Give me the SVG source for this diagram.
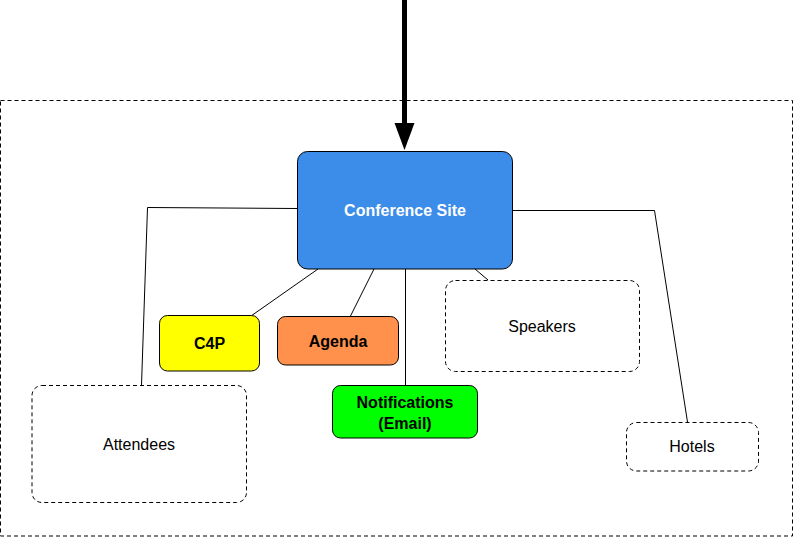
<svg xmlns="http://www.w3.org/2000/svg" width="794" height="538" viewBox="0 0 794 538">
<style>
.t{font-family:"Liberation Sans",Arial,Helvetica,sans-serif;font-size:16px;text-anchor:middle;dominant-baseline:central}
.b{font-weight:bold}
.dash{fill:#fff;stroke:#000;stroke-width:1;stroke-dasharray:4 3}
.conn{fill:none;stroke:#000;stroke-width:1}
</style>
<rect id="boundary" x="0.5" y="100.5" width="792" height="435.5" fill="none" stroke="#000" stroke-dasharray="4 3"/>
<g id="connectors">
<line x1="404.5" y1="0" x2="404.5" y2="126" stroke="#000" stroke-width="5"/>
<path d="M394.5,123 L414.5,123 L404.5,150 Z" fill="#000"/>
<polyline class="conn" points="297,208.5 147.5,207.5 141.5,385"/>
<line class="conn" x1="318" y1="269" x2="251" y2="316"/>
<line class="conn" x1="374" y1="269" x2="350" y2="317"/>
<line class="conn" x1="405.5" y1="269" x2="405.5" y2="386"/>
<line class="conn" x1="475" y1="269" x2="488" y2="280"/>
<polyline class="conn" points="512,210.5 654.5,210.5 687.5,422"/>
</g>
<g id="conference-site">
<rect x="297.5" y="151.5" width="215" height="117.5" rx="10" fill="#3c8ce9" stroke="#000"/>
<text class="t b" x="405" y="210" fill="#fff">Conference Site</text>
</g>
<g id="c4p">
<rect x="159.5" y="315.5" width="100" height="55.5" rx="8" fill="#ffff00" stroke="#000"/>
<text class="t b" x="209.5" y="343">C4P</text>
</g>
<g id="agenda">
<rect x="277.5" y="316.5" width="121" height="48.5" rx="8" fill="#ff914d" stroke="#000"/>
<text class="t b" x="338" y="341">Agenda</text>
</g>
<g id="notifications">
<rect x="332.5" y="385.5" width="145" height="52.5" rx="8" fill="#00ff00" stroke="#000"/>
<text class="t b" x="405" y="402.5">Notifications</text>
<text class="t b" x="405" y="423">(Email)</text>
</g>
<g id="speakers">
<rect class="dash" x="445.5" y="280.5" width="194" height="91" rx="10"/>
<text class="t" x="542" y="326">Speakers</text>
</g>
<g id="attendees">
<rect class="dash" x="32" y="385.5" width="214.5" height="117" rx="10"/>
<text class="t" x="139" y="444">Attendees</text>
</g>
<g id="hotels">
<rect class="dash" x="626.5" y="422.5" width="132" height="48.5" rx="10"/>
<text class="t" x="692" y="446">Hotels</text>
</g>
</svg>
